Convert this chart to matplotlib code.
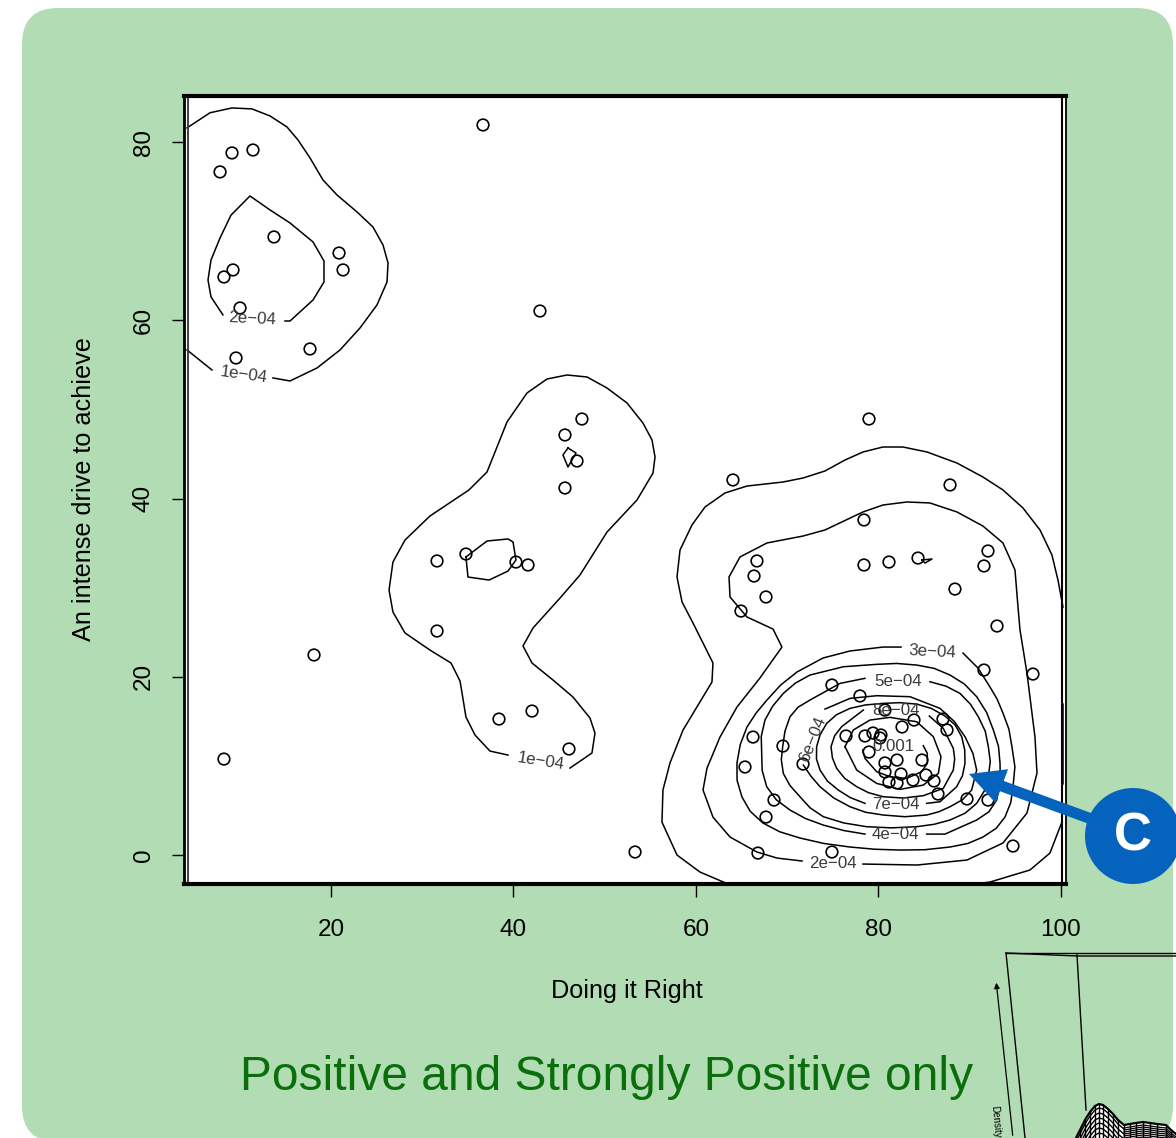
import numpy as np
import matplotlib
matplotlib.use("Agg")
import matplotlib.pyplot as plt
import matplotlib.patches as mpatches

plt.rcParams['font.family'] = ['Liberation Sans', 'DejaVu Sans']

# scatter points
pts_x = [7.84,9.15,11.45,13.75,8.27,9.26,10.03,9.59,17.7,20.88,21.32,36.66,42.9,8.27,18.14,31.62,31.62,34.79,40.27,41.59,
         38.41,42.03,46.08,47.5,45.64,46.96,45.64,53.32,64.05,64.93,66.68,66.36,67.67,66.25,65.37,68.55,67.67,66.79,69.53,71.73,
         74.9,74.9,76.44,77.97,78.41,78.52,78.96,79.4,78.41,78.96,81.15,84.33,87.84,88.38,92.0,91.56,92.99,91.56,96.93,94.74,
         92.0,89.7,86.52,86.08,85.2,84.77,83.89,82.58,80.71,87.07,87.51,80.16,80.27,80.71,82.03,80.71,82.47,81.15,82.03,83.78]
pts_y = [76.66,78.79,79.12,69.36,64.87,65.66,61.39,55.78,56.79,67.56,65.66,81.93,61.05,10.77,22.45,33.0,25.14,33.78,32.88,32.55,
         15.26,16.16,11.9,48.93,47.14,44.22,41.19,0.34,42.09,27.38,33.0,31.31,28.96,13.24,9.88,6.17,4.26,0.22,12.23,10.21,
         19.08,0.34,13.36,17.85,32.55,13.36,11.56,13.69,37.6,48.93,32.88,33.33,41.53,29.85,34.12,32.44,25.7,20.76,20.31,1.01,
         6.17,6.29,6.85,8.31,8.98,10.66,15.15,14.37,16.27,15.26,14.03,13.13,13.47,10.33,10.66,9.32,9.09,8.19,8.08,8.42]

# contour lines, (x, y) in axis units
c1_topleft = [(4.22,81.6),(6.74,83.3),(9.15,83.84),(11.34,83.73),(13.32,82.94),(15.18,81.7),(16.38,80.25),(17.7,78.23),(19.12,75.76),
              (20.66,74.07),(22.85,72.17),(24.6,70.48),(25.7,68.46),(26.25,66.44),(26.14,64.31),(25.04,61.73),(23.18,59.15),
              (20.99,56.68),(18.47,54.66),(15.51,53.2),(13.64,53.54)]
c1_topleft2 = [(6.96,54.43),(4.22,56.68)]
c2_topleft = [(8.16,60.61),(6.85,62.63),(6.52,64.53),(6.85,66.78),(7.84,69.25),(9.04,71.81),(11.12,73.96),(13.32,72.39),(15.51,70.93),
              (18.03,68.8),(19.23,66.67),(19.23,64.31),(18.03,62.29),(15.51,59.93),(14.96,59.93)]
c1_mid = [(39.4,11.22),(37.42,11.67),(35.78,13.47),(34.79,15.49),(34.36,18.18),(34.14,19.53),(33.15,21.55),(30.85,23.0),(28.11,24.92),
          (26.79,27.27),(26.36,29.74),(26.79,32.88),(28.11,35.35),(30.85,38.05),(35.12,40.97),(37.1,42.99),(39.29,48.6),(41.48,51.85),
          (43.67,53.42),(45.86,53.87),(48.05,53.65),(50.25,52.41),(52.44,50.73),(54.19,48.48),(55.18,46.58),(55.51,44.67),(55.29,42.87),
          (53.53,39.84),(50.25,36.25),(47.29,31.43),(45.1,28.84),(42.14,25.48),(41.04,23.46),(42.03,21.55),(44.33,19.64),(46.52,17.73),
          (48.38,15.38),(48.93,13.69),(48.6,11.45),(46.19,9.76)]
c2_loop_a = [(34.79,33.45),(37.1,35.24),(39.4,35.47),(39.95,35.13),(40.27,33.11),(39.4,31.87),(37.32,30.86),(35.01,31.2),(34.79,33.45)]
c2_loop_b = [(45.97,45.68),(45.42,44.89),(45.97,43.55),(46.85,45.12),(45.97,45.68)]
c1_big = [(63.51,-3.25),(60.44,-1.91),(57.92,0),(56.27,3.7),(56.38,7.3),(57.15,10.33),(58.58,14.03),(61.75,19.42),(61.86,21.55),(60.99,23.34),
          (59.67,26.04),(58.47,28.4),(57.92,31.2),(58.25,34.23),(59.56,37.04),(60.99,39.06),(63.18,40.63),(65.59,41.41),(69.53,41.86),
          (71.73,42.31),(74.14,43.1),(76.33,44.33),(78.3,45.23),(80.49,45.79),(82.68,45.79),(85.32,45.23),(88.6,43.99),(91.45,42.42),
          (93.64,40.97),(95.84,38.94),(97.7,36.48),(99.01,33.67),(99.67,30.86),(100.22,27.83)]
c1_big2 = [(100.11,3.7),(99.89,3.14),(98.79,0.22),(96.6,-1.68),(92.22,-3.03),(90.57,-3.25)]
c2_big = [(71.62,-0.67),(68.88,-0.34),(66.68,0.34),(63.73,2.02),(61.86,4.26),(60.77,7.3),(61.21,9.76),(62.63,13.24),(64.49,16.61),(67.01,19.87),
          (69.42,23.34),(68.44,25.36),(65.59,26.71),(63.73,28.96),(63.62,31.2),(64.82,33.45),(67.78,35.02),(71.73,35.8),(74.14,36.48),(78.3,38.5),
          (80.49,39.28),(83.12,39.62),(85.64,39.51),(88.6,38.5),(91.45,36.92),(93.64,35.02),(94.96,31.99),(95.29,27.83),(95.51,25.25),(96.27,20.43),
          (97.15,13.24),(97.37,9.2),(96.27,4.71),(93.64,1.35),(89.7,-0.56),(84.22,-1.12),(78.3,-1.01)]
c2_loop_c = [(84.77,33.11),(85.86,33.22),(85.1,32.77),(84.77,33.11)]
c3 = [(82.47,23.34),(80.49,23.34),(76.88,22.9),(73.92,22.11),(71.07,20.54),(69.3,19.1),(67.78,17.4),(66.6,15.95),(65.59,14.37),(64.85,12.4),(64.49,10.33),
      (64.5,8.4),(65.04,6.51),(65.95,4.9),(67.34,3.59),(69.2,2.6),(71.4,1.91),(74.0,1.3),(76.88,0.9),(79.6,0.65),(82.36,0.56),(85.1,0.6),(87.84,0.9),
      (89.8,1.3),(91.45,2.02),(92.9,3.0),(93.86,4.26),(94.5,5.9),(94.74,7.63),(94.95,9.9),(94.63,12.12),(94.3,14.1),(93.64,15.94),(93.0,17.5),(92.22,18.86),
      (90.9,20.99),(89.26,22.67)]
c4 = [(85.28,2.35),(87.29,2.35),(90.76,3.93),(92.1,4.85),(92.95,6.17),(93.35,8.2),(93.32,10.29),(93.15,12.2),(92.59,14.03),(91.85,16.0),(90.76,17.77),
      (89.4,19.2),(87.84,20.2),(86.1,20.95),(84.18,21.32),(82.0,21.5),(79.8,21.4),(76.15,21.13),(72.49,20.2),(70.9,19.3),(69.57,18.14),(68.4,16.7),(67.56,15.15),
      (67.15,13.3),(67.2,11.41),(67.25,9.5),(67.75,7.67),(68.8,6.2),(70.3,5.05),(72.0,4.1),(73.96,3.36),(76.2,2.75),(78.52,2.35)]
c5 = [(85.64,19.45),(87.4,18.95),(88.93,18.14),(90.1,16.9),(90.94,15.52),(91.7,13.9),(92.04,12.16),(92.25,10.5),(92.04,8.79),(91.6,7.2),(90.76,5.8),(89.5,4.7),
      (87.84,3.93),(86.1,3.45),(84.18,3.18),(81.4,3.05),(78.7,3.18),(76.2,3.6),(73.96,4.3),(72.5,5.3),(71.4,6.54),(70.3,7.8),(69.57,9.16),(69.35,10.7),(69.5,12.16),
      (69.75,13.9),(70.3,15.52),(71.2,16.6),(72.49,17.39),(75.78,19.26),(78.52,19.83)]
c6 = [(74.14,16.38),(76.88,17.58),(79.8,17.88),(83.45,17.77),(86.74,16.46),(88.3,15.0),(89.48,13.28),(90.35,11.4),(90.76,9.54),(90.21,7.29),(89.2,6.2),(87.84,5.42),
      (86.6,4.85),(85.28,4.49),(82.9,4.3),(80.53,4.49),(78.6,4.8),(76.88,5.42),(75.1,6.4),(73.59,7.67),(72.6,8.85),(71.76,10.1)]
c7 = [(85.28,5.8),(86.74,5.98),(88.57,7.67),(89.2,8.9),(89.48,10.29),(89.45,11.8),(89.12,13.28),(88.4,14.6),(87.29,15.6),(85.8,16.45),(84.18,16.94),(82.3,17.1),
      (80.53,17.02),(78.6,16.85),(76.88,16.46),(75.4,15.75),(74.32,14.77),(73.6,13.5),(73.22,12.16),(73.2,10.8),(73.59,9.54),(74.4,8.3),(75.6,7.29),(76.9,6.45),(78.52,5.8)]
c8 = [(85.57,15.6),(87.1,14.21),(88.2,11.97),(88.35,10.8),(88.2,9.54),(87.1,7.48),(84.91,6.66),(82.7,6.4),(80.53,6.54),(78.9,7.0),(77.61,7.67),(76.3,8.6),(75.42,9.72),
      (74.95,10.9),(74.8,12.16),(75.2,13.4),(75.96,14.4),(78.34,16.27)]
c9 = [(76.33,12.16),(77.24,14.03),(79.07,15.15),(81.26,15.45),(84.18,14.96),(86.01,13.28),(86.85,11.03),(86.56,9.16),(84.91,7.85),(82.36,7.37),
      (79.8,8.04),(77.61,9.54),(76.33,12.16)]
c10 = [(84.91,12.27),(85.35,11.41),(85.35,10.29),(84.73,9.35),(83.09,8.6),(81.26,8.79),(79.8,9.35),(78.52,10.85),(78.27,11.78)]
contours = [c1_topleft,c1_topleft2,c2_topleft,c1_mid,c2_loop_a,c2_loop_b,c1_big,c1_big2,c2_big,c2_loop_c,c3,c4,c5,c6,c7,c8,c9,c10]

# contour labels: text, x, y, rotation
labels = [("1e\u221204",10.4,53.9,-8),("2e\u221204",11.4,60.2,-3),("1e\u221204",43.0,10.5,-9),("2e\u221204",75.0,-0.9,0),
          ("3e\u221204",85.9,22.8,-3),("4e\u221204",81.9,2.35,0),("5e\u221204",82.1,19.5,0),("6e\u221204",72.8,13.0,68),
          ("7e\u221204",81.9,5.7,0),("8e\u221204",81.9,16.2,0),("0.001",81.6,12.2,0)]

x_ticks = [20,40,60,80,100]
y_ticks = [0,20,40,60,80]

fig = plt.figure(figsize=(11.76,11.38),dpi=100,facecolor='white')
W,H = 1176.,1138.

# background layer in pixels
bg = fig.add_axes([0,0,1,1],zorder=0)
bg.set_xlim(0,W); bg.set_ylim(H,0); bg.axis('off')
bg.add_patch(mpatches.FancyBboxPatch((58,44),1079,1062,boxstyle="round,pad=36,rounding_size=36",lw=0,fc='#b2dcb4'))

ax = fig.add_axes([184/W,1-884/H,(1066-184)/W,(884-96)/H],zorder=1)
ax.set_xlim(3.89,100.55)
ax.set_ylim(-3.25,85.18)
for c in contours:
    c = np.array(c)
    ax.plot(c[:,0],c[:,1],color='black',lw=1.1,solid_joinstyle='round')
ax.scatter(pts_x,pts_y,s=70,facecolors='none',edgecolors='black',linewidths=1.2,zorder=3)
for t,x,y,r in labels:
    ax.text(x,y,t,fontsize=12.2,color='#3a3a3a',rotation=r,ha='center',va='center',rotation_mode='anchor',zorder=4)
ax.axvline(4.33,color='#333333',lw=1.3)
ax.axvline(100.11,color='black',lw=1.5)
ax.plot([100.2,100.2],[8,17],color='black',lw=1.1)
for s in ax.spines.values():
    s.set_linewidth(1.3)
ax.spines['top'].set_linewidth(3)
ax.spines['bottom'].set_linewidth(3)
ax.spines['left'].set_linewidth(2)
ax.set_xticks(x_ticks)
ax.set_yticks(y_ticks)
ax.tick_params(axis='x',length=9,width=1,labelsize=17.5,pad=16.4)
ax.tick_params(axis='y',length=9,width=1,labelsize=17.5,pad=12.2)
for lab in ax.get_yticklabels():
    lab.set_rotation(90)
    lab.set_va('center')

# overlay layer in pixels
top = fig.add_axes([0,0,1,1],zorder=2)
top.set_xlim(0,W); top.set_ylim(H,0); top.axis('off'); top.patch.set_alpha(0)
top.text(627,991,"Doing it Right",fontsize=18.2,ha='center',va='center')
top.text(84,489,"An intense drive to achieve",fontsize=18.2,rotation=90,ha='center',va='center')
top.text(607,1077,"Positive and Strongly Positive only",fontsize=34.5,color='#0a6e0a',ha='center',va='center')

# callout
blue = '#0563be'
top.add_patch(mpatches.FancyArrow(1105,824,-136,-50,width=11,head_width=36,head_length=35,length_includes_head=True,color=blue,lw=0))
top.add_patch(mpatches.Circle((1133,836),48,color=blue,lw=0))
top.text(1133,836,"C",fontsize=38,fontweight='bold',color='white',ha='center',va='center')

# bit of the next panel's perspective plot, cut off by the page
top.plot([1006,1176],[953,953],color='black',lw=1)
top.plot([1006,1077,1176],[953,956,956],color='black',lw=1)
top.plot([1006,1025],[953,1138],color='black',lw=1)
top.plot([1077,1086],[955,1110],color='black',lw=1)
top.annotate("",xy=(996,980),xytext=(1013,1138),arrowprops=dict(arrowstyle='-|>',color='black',lw=0.9,mutation_scale=8))
top.text(996,1122,"Density",fontsize=7,rotation=-85,ha='center',va='center')

wire_x = [1076,1080,1085,1090,1095,1099,1103,1108,1113,1118,1124,1130,1136,1143,1150,1157,1166,1171,1176]
wire_y = [1138,1130,1120,1112,1106,1104,1105,1109,1114,1120,1125,1124,1123,1122,1123,1124,1125,1130,1134]
top.fill_between(wire_x,wire_y,1139,color='white',zorder=5)
top.plot(wire_x,wire_y,color='black',lw=1.6,zorder=6)
for x,y in zip(wire_x,wire_y):
    top.plot([x,x],[y,1139],color='black',lw=1.0,zorder=6)
for offset in [4,9,14,19,24,29]:
    top.plot(wire_x[:11],[y+offset for y in wire_y[:11]],color='black',lw=1.0,zorder=6)
for offset in [3,5,7,9,11,13,15]:
    top.plot(wire_x[10:],[y+offset for y in wire_y[10:]],color='black',lw=0.9,zorder=6)
top.set_xlim(0,W); top.set_ylim(H,0)

fig.savefig('out.png',dpi=100)
